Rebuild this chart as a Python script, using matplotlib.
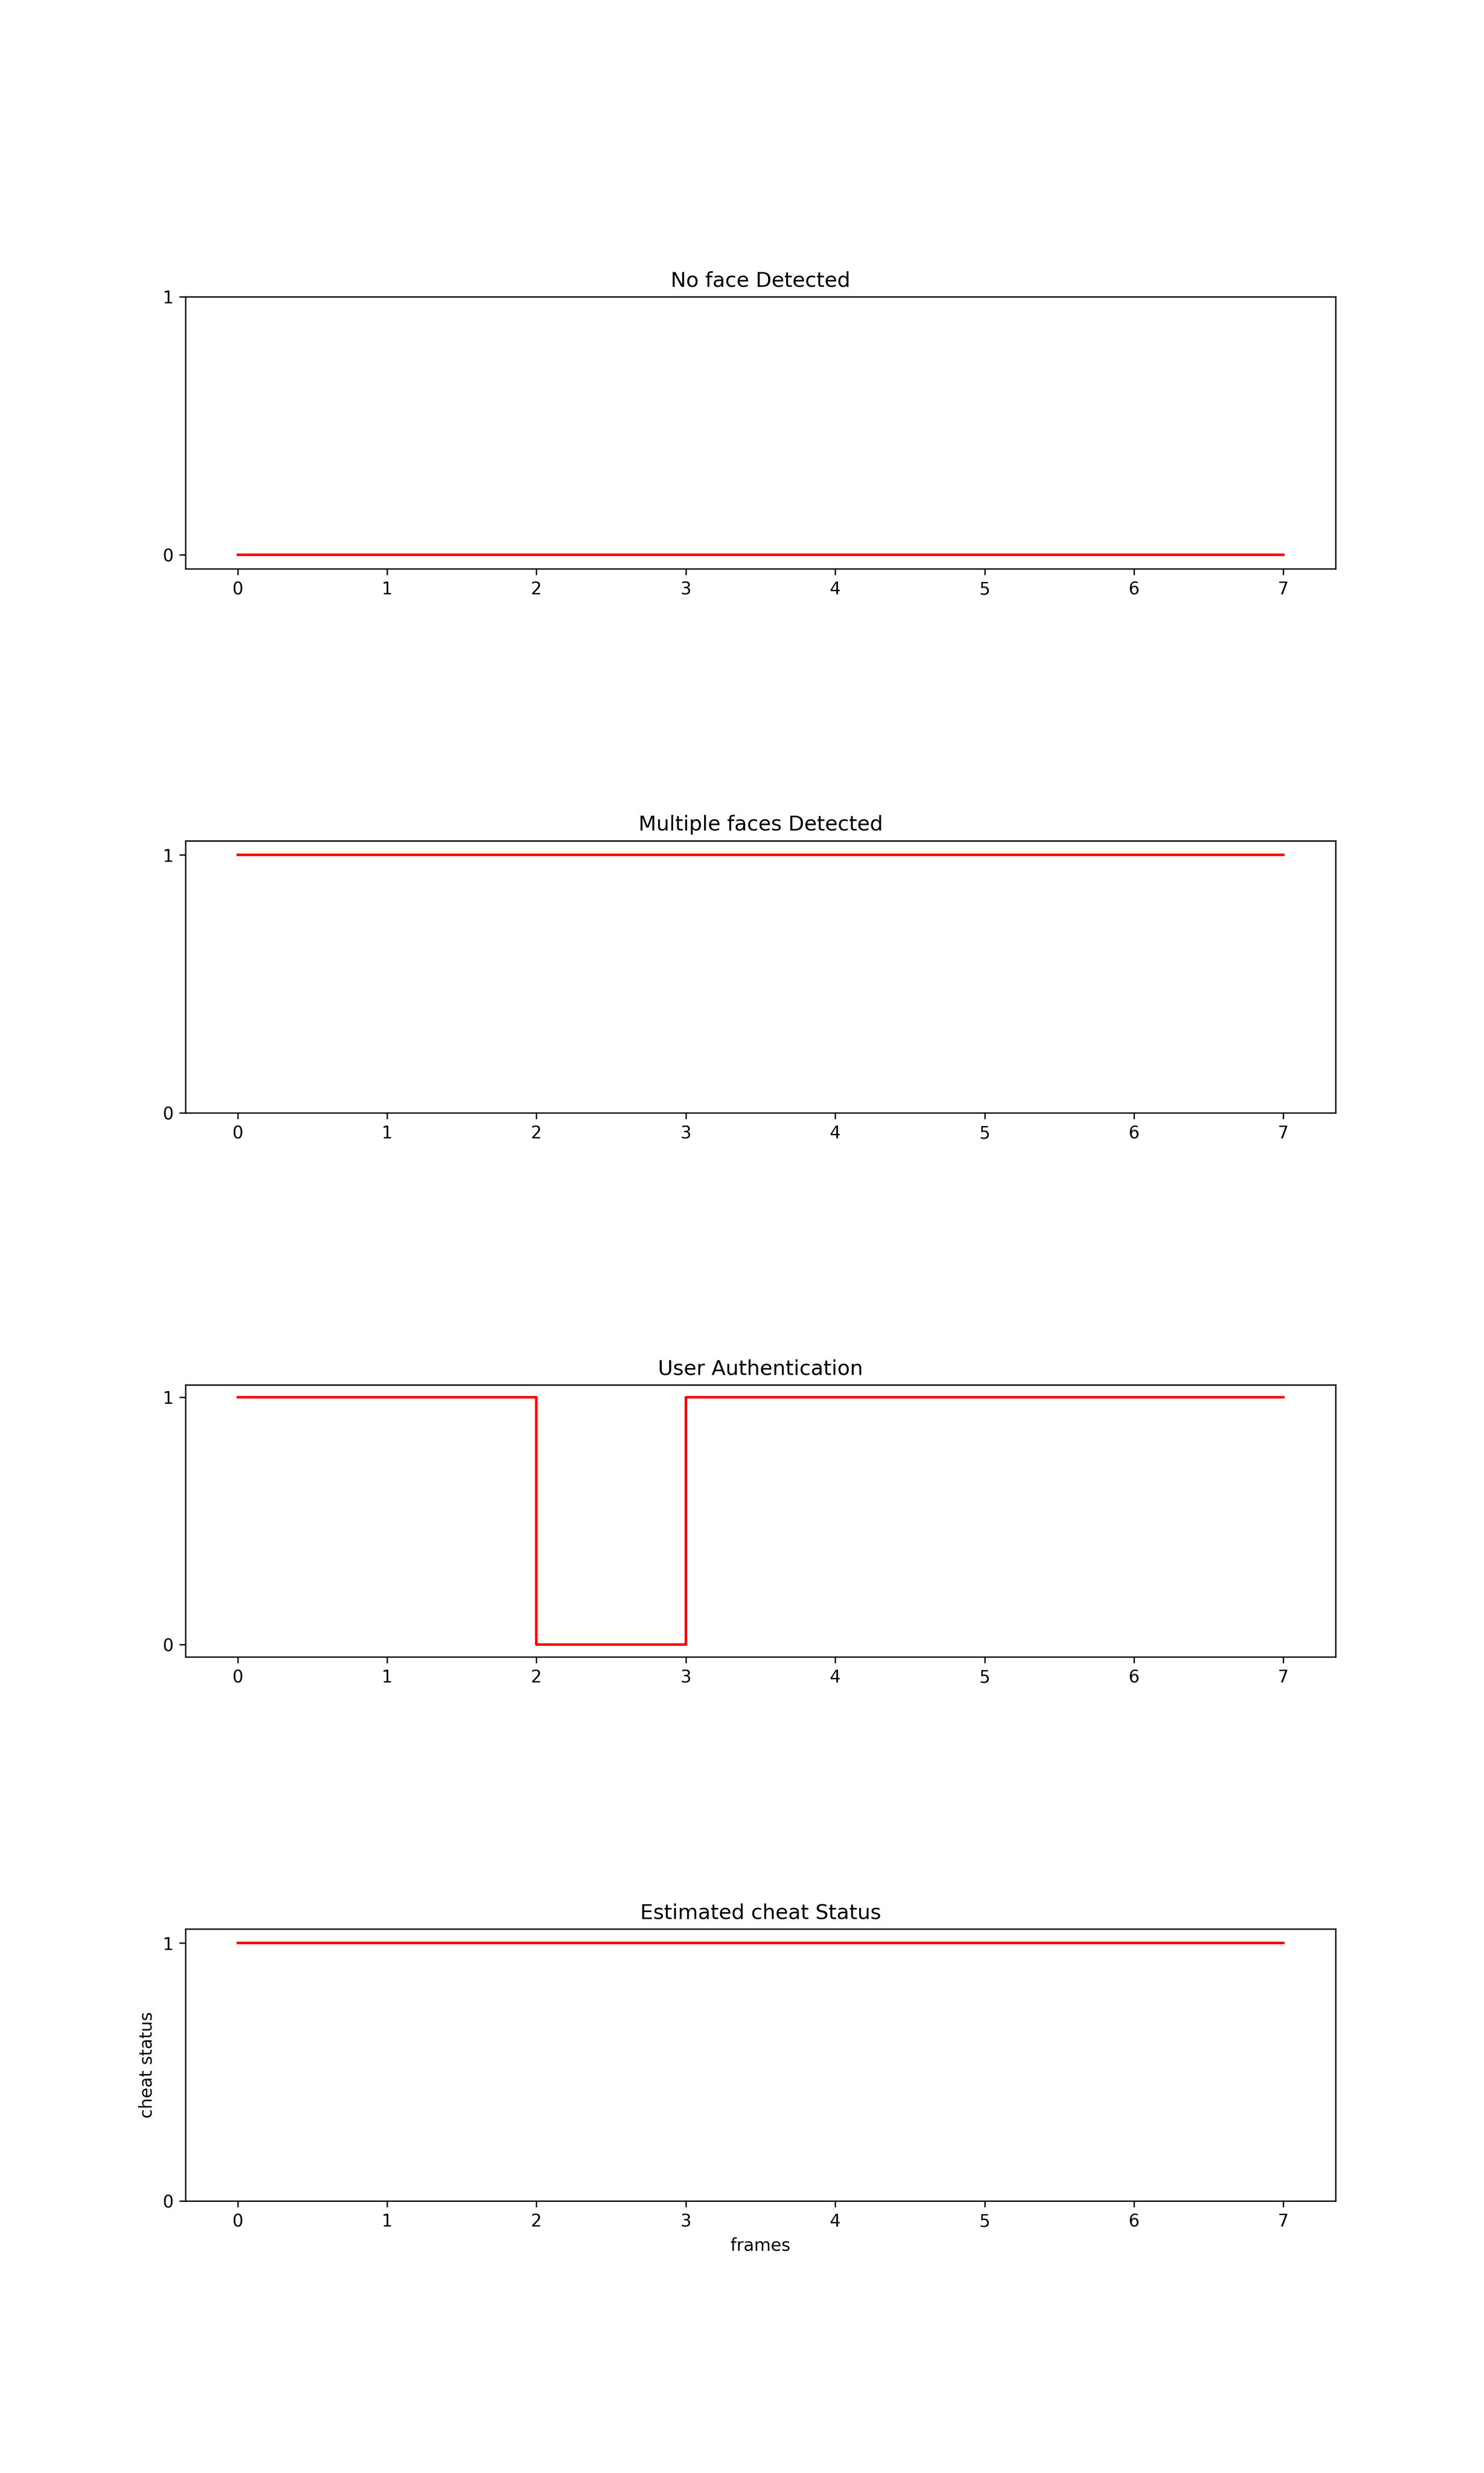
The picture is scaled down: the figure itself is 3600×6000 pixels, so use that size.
import matplotlib
matplotlib.use("Agg")
import matplotlib.pyplot as plt

frames = [0, 1, 2, 3, 4, 5, 6, 7]
no_face = [0, 0, 0, 0, 0, 0, 0, 0]
multiple_faces = [1, 1, 1, 1, 1, 1, 1, 1]
user_auth = [1, 1, 0, 1, 1, 1, 1, 1]
cheat_status = [1, 1, 1, 1, 1, 1, 1, 1]

titles = ["No face Detected", "Multiple faces Detected", "User Authentication", "Estimated cheat Status"]
series = [no_face, multiple_faces, user_auth, cheat_status]

fig, axes = plt.subplots(4, 1, figsize=(12, 20), dpi=300)
fig.subplots_adjust(hspace=1.0)
for ax, t, s in zip(axes, titles, series):
    ax.step(frames, s, where="post", color="red")
    ax.set_title(t)
    ax.set_yticks([0, 1])
axes[-1].set_ylabel("cheat status")
axes[-1].set_xlabel("frames")
fig.savefig("out.png")
